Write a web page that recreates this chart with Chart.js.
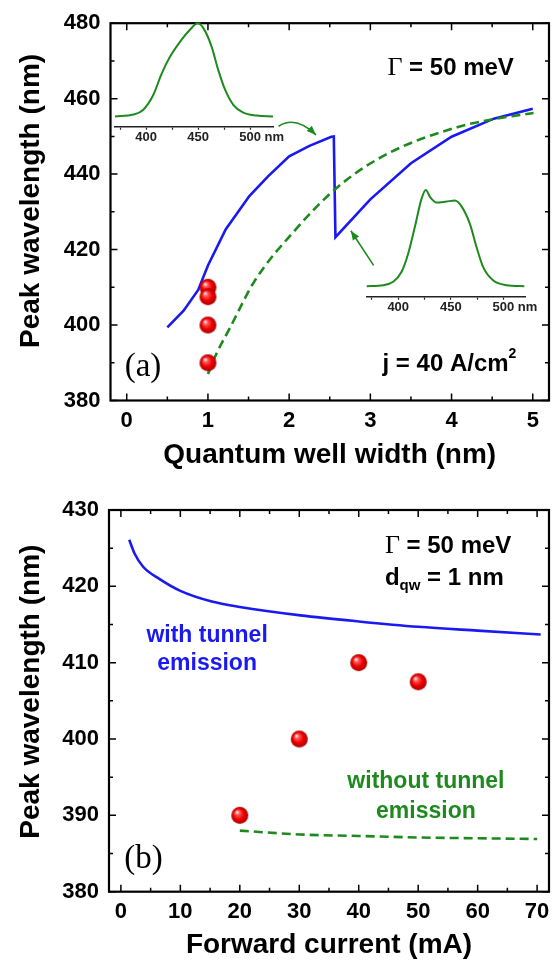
<!DOCTYPE html>
<html>
<head>
<meta charset="utf-8">
<script src="https://cdn.jsdelivr.net/npm/chart.js@4.4.0/dist/chart.umd.min.js"></script>
<style>
  html, body { margin: 0; padding: 0; background: #fff; }
  #page { position: relative; width: 558px; height: 962px; overflow: hidden; }
  #page canvas { position: absolute; }
</style>
</head>
<body>
<div id="page">
  <canvas id="chartA" width="558" height="480" style="left:0;top:0"></canvas>
  <canvas id="insetA1" width="190" height="140" style="left:100px;top:10px"></canvas>
  <canvas id="insetA2" width="195" height="145" style="left:350px;top:175px"></canvas>
  <canvas id="chartB" width="558" height="482" style="left:0;top:480px"></canvas>
</div>
<script>
// (a) peak wavelength vs quantum well width
var qwWidthTunnel = [0.5, 0.7, 0.88, 1.0, 1.22, 1.51, 1.74, 2.0, 2.25, 2.52, 2.55, 2.57, 3.0, 3.5, 4.0, 4.52, 5.0];
var peakTunnelA   = [399.4, 403.8, 409.3, 415.8, 425.4, 434.2, 439.4, 444.7, 447.5, 449.9, 450.0, 423.3, 433.3, 442.9, 449.9, 454.7, 457.3];
var qwWidthNoTunnel = [1.0, 1.10, 1.27, 1.57, 2.05, 2.61, 3.22, 4.08, 4.5, 5.01];
var peakNoTunnelA   = [387.0, 392.2, 399.2, 411.5, 424.6, 436.8, 445.5, 452.5, 454.5, 456.2];
var qwWidthExp = [1, 1, 1, 1];
var peakExpA   = [410, 407.5, 400, 390];

// (b) peak wavelength vs forward current
var currentTunnel = [1.4, 2.3, 3.7, 6.4, 10, 15.3, 20, 30.2, 40, 50, 60, 70.6];
var peakTunnelB   = [426.1, 424.3, 422.6, 421.0, 419.4, 418.0, 417.3, 416.2, 415.4, 414.7, 414.2, 413.7];
var currentNoTunnel = [20, 30, 40, 50, 60, 70];
var peakNoTunnelB   = [388.0, 387.5, 387.3, 387.1, 387.0, 386.9];
var currentExp = [20, 30, 40, 50];
var peakExpB   = [390, 400, 410, 407.5];

// inset spectra (normalised intensity)
var specWl1  = [370, 387.6, 397, 406.8, 414.9, 422.9, 432.5, 442.1, 449.5, 454.9, 462.9, 469.3, 475.8, 483.8, 493.4, 506.3, 522];
var specInt1 = [0, 0.02, 0.07, 0.23, 0.46, 0.64, 0.80, 0.93, 1.0, 0.95, 0.75, 0.5, 0.29, 0.125, 0.04, 0.01, 0];
var specWl2  = [370, 385.7, 395.2, 403.2, 409.5, 415.9, 422.2, 426.3, 430.1, 436.4, 445.9, 453.8, 460.2, 468.1, 474.4, 480.7, 490.2, 502.9, 520];
var specInt2 = [0, 0.01, 0.045, 0.15, 0.34, 0.62, 0.91, 1.0, 0.93, 0.87, 0.88, 0.89, 0.83, 0.65, 0.41, 0.2, 0.06, 0.01, 0];

// tick labels
var xTicksA = [0, 1, 2, 3, 4, 5];
var yTicksA = [380, 400, 420, 440, 460, 480];
var xTicksB = [0, 10, 20, 30, 40, 50, 60, 70];
var yTicksB = [380, 390, 400, 410, 420, 430];
var insetTicks = [375, 400, 425, 450, 475, 500, 525];
var insetLabels = [400, 450, 500];

var BLUE = "#1a1af0";
var GREEN = "#1e8a1e";
var SANS = '"Liberation Sans", Arial, Helvetica, sans-serif';
var SERIF = '"Liberation Serif", "Times New Roman", serif';

function pts(xs, ys) {
    return xs.map(function (v, i) { return { x: v, y: ys[i] }; });
}
function mids(arr) {
    var out = [];
    for (var i = 1; i < arr.length; i++) out.push((arr[i - 1] + arr[i]) / 2);
    return out;
}

function makeSphere(r) {
    var c = document.createElement("canvas");
    c.width = c.height = 2 * r + 2;
    var g = c.getContext("2d");
    var cx = r + 1, cy = r + 1;
    var grad = g.createRadialGradient(cx - r * 0.35, cy - r * 0.4, r * 0.05, cx, cy, r);
    grad.addColorStop(0, "#fff0f4");
    grad.addColorStop(0.22, "#ff5a5a");
    grad.addColorStop(0.6, "#f00000");
    grad.addColorStop(1, "#a80000");
    g.fillStyle = grad;
    g.beginPath();
    g.arc(cx, cy, r, 0, Math.PI * 2);
    g.fill();
    return c;
}
var sphere = makeSphere(8.5);

// inward ticks on all four sides, the frame and the y title
var frameTicks = {
    id: "frameTicks",
    afterDatasetsDraw: function (chart, args, o) {
        var ctx = chart.ctx, a = chart.chartArea;
        var x = chart.scales.x, y = chart.scales.y;
        ctx.save();
        ctx.strokeStyle = "#000";
        ctx.lineWidth = 1.5;
        function xt(vals, len) {
            vals.forEach(function (v) {
                var px = x.getPixelForValue(v);
                ctx.beginPath();
                ctx.moveTo(px, a.bottom); ctx.lineTo(px, a.bottom - len);
                ctx.moveTo(px, a.top); ctx.lineTo(px, a.top + len);
                ctx.stroke();
            });
        }
        function yt(vals, len) {
            vals.forEach(function (v) {
                var py = y.getPixelForValue(v);
                ctx.beginPath();
                ctx.moveTo(a.left, py); ctx.lineTo(a.left + len, py);
                ctx.moveTo(a.right, py); ctx.lineTo(a.right - len, py);
                ctx.stroke();
            });
        }
        xt(o.xMajor, 7); xt(mids(o.xMajor), 4);
        yt(o.yMajor, 7); yt(mids(o.yMajor), 4);
        ctx.lineWidth = 2.2;
        ctx.strokeRect(a.left, a.top, a.right - a.left, a.bottom - a.top);

        // y axis title, centred on a value of the y scale
        ctx.translate(o.yTitleX, y.getPixelForValue(o.yTitleAt));
        ctx.rotate(-Math.PI / 2);
        ctx.font = "bold 28px " + SANS;
        ctx.fillStyle = "#000";
        ctx.textAlign = "center";
        ctx.textBaseline = "middle";
        ctx.fillText(o.yTitle, 0, 0);
        ctx.restore();
    }
};

// text notes and arrows placed in data units
var notes = {
    id: "notes",
    afterDraw: function (chart, args, o) {
        var ctx = chart.ctx;
        var x = chart.scales.x, y = chart.scales.y;
        ctx.save();
        (o.texts || []).forEach(function (n) {
            var px = x.getPixelForValue(n.x), py = y.getPixelForValue(n.y);
            var w = 0;
            n.runs.forEach(function (r) { ctx.font = r.f; w += ctx.measureText(r.t).width; });
            if (n.align === "center") px -= w / 2;
            ctx.textBaseline = "middle";
            ctx.fillStyle = n.color || "#000";
            n.runs.forEach(function (r) {
                ctx.font = r.f;
                ctx.fillText(r.t, px, py + (r.dy || 0));
                px += ctx.measureText(r.t).width;
            });
        });
        (o.arrows || []).forEach(function (ar) {
            var p = ar.pts.map(function (q) { return [x.getPixelForValue(q[0]), y.getPixelForValue(q[1])]; });
            ctx.strokeStyle = GREEN;
            ctx.fillStyle = GREEN;
            ctx.lineWidth = 1.6;
            ctx.beginPath();
            ctx.moveTo(p[0][0], p[0][1]);
            var from;
            if (p.length === 3) {
                ctx.quadraticCurveTo(p[1][0], p[1][1], p[2][0], p[2][1]);
                from = p[1];
            } else {
                ctx.lineTo(p[1][0], p[1][1]);
                from = p[0];
            }
            ctx.stroke();
            var tip = p[p.length - 1];
            var ang = Math.atan2(tip[1] - from[1], tip[0] - from[0]);
            var s = 10;
            ctx.beginPath();
            ctx.moveTo(tip[0], tip[1]);
            ctx.lineTo(tip[0] - s * Math.cos(ang - 0.38), tip[1] - s * Math.sin(ang - 0.38));
            ctx.lineTo(tip[0] - s * Math.cos(ang + 0.38), tip[1] - s * Math.sin(ang + 0.38));
            ctx.closePath();
            ctx.fill();
        });
        ctx.restore();
    }
};

var boldF = "bold 23px " + SANS;
var bigF = "bold 24px " + SANS;
var gammaF = "26px " + SERIF;

function mainChart(id, cfg) {
    return new Chart(document.getElementById(id), {
        type: "scatter",
        data: {
            datasets: [
                {
                    data: cfg.tunnel, showLine: true, borderColor: BLUE, borderWidth: 2.6,
                    pointRadius: 0, tension: cfg.blueTension, cubicInterpolationMode: cfg.blueMode, order: 3
                },
                {
                    data: cfg.noTunnel, showLine: true, borderColor: GREEN, borderWidth: 2.6,
                    borderDash: [9, 5], pointRadius: 0, cubicInterpolationMode: "monotone", order: 2
                },
                {
                    data: cfg.exp, showLine: false, pointStyle: sphere, pointRadius: 8, order: 1
                }
            ]
        },
        options: {
            responsive: false,
            devicePixelRatio: 1,
            animation: false,
            layout: { padding: { left: 0, right: cfg.padRight, top: cfg.padTop, bottom: 0 } },
            plugins: {
                legend: { display: false },
                tooltip: { enabled: false },
                frameTicks: { xMajor: cfg.xTicks, yMajor: cfg.yTicks,
                              yTitle: "Peak wavelength (nm)", yTitleX: 31, yTitleAt: cfg.yTitleAt },
                notes: { texts: cfg.texts, arrows: cfg.arrows }
            },
            scales: {
                x: {
                    type: "linear", position: "bottom", min: cfg.xMin, max: cfg.xMax,
                    afterBuildTicks: function (s) { s.ticks = cfg.xTicks.map(function (v) { return { value: v }; }); },
                    afterFit: function (s) { s.height = cfg.xHeight; },
                    grid: { display: false, drawTicks: false },
                    border: { display: false },
                    ticks: { autoSkip: false, maxRotation: 0, padding: 7, color: "#000",
                             font: { family: SANS, size: 22, weight: "bold" } },
                    title: { display: true, text: cfg.xTitle, color: "#000",
                             padding: { top: 0, bottom: cfg.xTitlePad },
                             font: { family: SANS, size: 28, weight: "bold", lineHeight: 1 } }
                },
                y: {
                    type: "linear", position: "left", min: cfg.yMin, max: cfg.yMax,
                    afterBuildTicks: function (s) { s.ticks = cfg.yTicks.map(function (v) { return { value: v }; }); },
                    afterFit: function (s) { s.width = cfg.yWidth; },
                    grid: { display: false, drawTicks: false },
                    border: { display: false },
                    ticks: { autoSkip: false, padding: 10, color: "#000",
                             font: { family: SANS, size: 22, weight: "bold" } },
                    title: { display: false }
                }
            }
        },
        plugins: [frameTicks, notes]
    });
}

mainChart("chartA", {
    tunnel: pts(qwWidthTunnel, peakTunnelA),
    noTunnel: pts(qwWidthNoTunnel, peakNoTunnelA),
    exp: pts(qwWidthExp, peakExpA),
    blueTension: 0, blueMode: "default",
    xMin: -0.2, xMax: 5.2, yMin: 380, yMax: 480,
    xTicks: xTicksA, yTicks: yTicksA,
    padRight: 4, padTop: 18, xHeight: 79.5, yWidth: 110.5, xTitlePad: 11,
    xTitle: "Quantum well width (nm)", yTitleAt: 432.9,
    texts: [
        { x: 3.21, y: 468, runs: [{ t: "\u0393", f: gammaF }, { t: " = 50 meV", f: bigF }] },
        { x: 3.15, y: 389.7, runs: [{ t: "j = 40 A/cm", f: bigF }, { t: "2", f: "bold 14px " + SANS, dy: -10 }] },
        { x: 0.2, y: 388.8, align: "center", runs: [{ t: "(a)", f: "33px " + SERIF }] }
    ],
    arrows: [
        { pts: [[1.87, 452.7], [2.08, 455.6], [2.33, 450.4]] },
        { pts: [[3.04, 415.8], [2.76, 425.0]] }
    ]
});

mainChart("chartB", {
    tunnel: pts(currentTunnel, peakTunnelB),
    noTunnel: pts(currentNoTunnel, peakNoTunnelB),
    exp: pts(currentExp, peakExpB),
    blueTension: 0.4, blueMode: "monotone",
    xMin: -2, xMax: 72, yMin: 380, yMax: 430,
    xTicks: xTicksB, yTicks: yTicksB,
    padRight: 4.5, padTop: 30, xHeight: 70.3, yWidth: 109, xTitlePad: 3,
    xTitle: "Forward current (mA)", yTitleAt: 406.2,
    texts: [
        { x: 44.4, y: 425.2, runs: [{ t: "\u0393", f: gammaF }, { t: " = 50 meV", f: bigF }] },
        { x: 44.4, y: 421.1, runs: [{ t: "d", f: bigF }, { t: "qw", f: "bold 15px " + SANS, dy: 8 }, { t: " = 1 nm", f: bigF }] },
        { x: 14.5, y: 413.6, align: "center", color: BLUE, runs: [{ t: "with tunnel", f: boldF }] },
        { x: 14.5, y: 409.9, align: "center", color: BLUE, runs: [{ t: "emission", f: boldF }] },
        { x: 51.3, y: 394.4, align: "center", color: GREEN, runs: [{ t: "without tunnel", f: boldF }] },
        { x: 51.3, y: 390.5, align: "center", color: GREEN, runs: [{ t: "emission", f: boldF }] },
        { x: 3.8, y: 384.2, align: "center", runs: [{ t: "(b)", f: "33px " + SERIF }] }
    ],
    arrows: []
});

// "nm" unit written after the 500 label of an inset axis
var nmUnit = {
    id: "nmUnit",
    afterDraw: function (chart) {
        var ctx = chart.ctx, x = chart.scales.x;
        var px = x.getPixelForValue(500);
        ctx.save();
        ctx.font = "bold 13px " + SANS;
        var w = ctx.measureText("500").width;
        ctx.fillStyle = "#222";
        ctx.textBaseline = "middle";
        ctx.fillText(" nm", px + w / 2, chart.chartArea.bottom + 3 + 7.8);
        ctx.restore();
    }
};

function insetChart(id, wl, inten, xMax, pad) {
    return new Chart(document.getElementById(id), {
        type: "scatter",
        data: {
            datasets: [{
                data: pts(wl, inten), showLine: true, borderColor: GREEN, borderWidth: 2,
                pointRadius: 0, cubicInterpolationMode: "monotone", clip: false
            }]
        },
        options: {
            responsive: false,
            devicePixelRatio: 1,
            animation: false,
            layout: { padding: pad },
            plugins: { legend: { display: false }, tooltip: { enabled: false } },
            scales: {
                x: {
                    type: "linear", min: 370, max: xMax,
                    afterBuildTicks: function (s) {
                        s.ticks = insetTicks.filter(function (v) { return v <= xMax; })
                            .map(function (v) { return { value: v }; });
                    },
                    afterFit: function (s) { s.height = 23.3; },
                    grid: { display: true, drawOnChartArea: false, drawTicks: true, tickLength: 3,
                            tickColor: "#222", tickWidth: 1.2 },
                    border: { display: true, color: "#222", width: 1.6 },
                    ticks: {
                        autoSkip: false, maxRotation: 0, padding: 0, color: "#222",
                        font: { family: SANS, size: 13, weight: "bold" },
                        callback: function (v) { return insetLabels.indexOf(v) >= 0 ? String(v) : ""; }
                    }
                },
                y: { display: false, min: -0.11, max: 1.05 }
            }
        },
        plugins: [nmUnit]
    });
}

insetChart("insetA1", specWl1, specInt1, 522, { left: 15, right: 17, top: 8.6, bottom: 0 });
insetChart("insetA2", specWl2, specInt2, 520.6, { left: 16.7, right: 20, top: 10.2, bottom: 0 });
</script>
</body>
</html>
